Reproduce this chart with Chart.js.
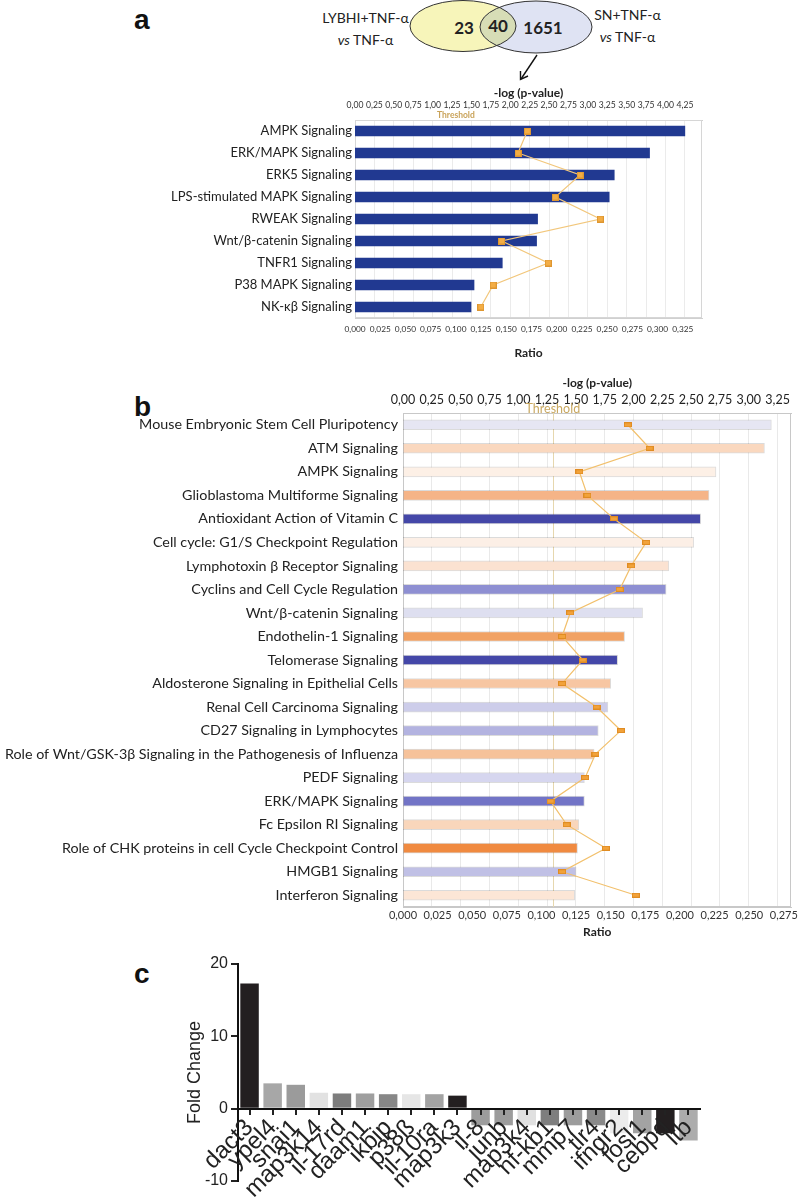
<!DOCTYPE html>
<html>
<head>
<meta charset="utf-8">
<script src="https://cdn.jsdelivr.net/npm/chart.js@4.4.1/dist/chart.umd.min.js"></script>
<style>
  html, body { margin: 0; padding: 0; background: #fff; }
  body { width: 800px; height: 1204px; position: relative; overflow: hidden; font-family: Lato, "Open Sans", sans-serif; color: #222; }
  .abs { position: absolute; }
  .plabel { position: absolute; font-family: "Liberation Sans", Arial, sans-serif; font-weight: bold; font-size: 28px; color: #111; line-height: 1; }
  .venntxt { position: absolute; font-size: 14px; text-align: center; line-height: 22px; color: #222; }
  .vnum { position: absolute; font-size: 17px; font-weight: bold; color: #222; transform: translate(-50%, -50%); }
  canvas { position: absolute; left: 0; }
</style>
</head>
<body>

<script>
// ---------------- DATA ----------------
const vennLeftLabel = ['LYBHI+TNF-α', 'TNF-α'];
const vennRightLabel = ['SN+TNF-α', 'TNF-α'];
const vennCounts = [23, 40, 1651];

const aCategories = ['AMPK Signaling', 'ERK/MAPK Signaling', 'ERK5 Signaling', 'LPS-stimulated MAPK Signaling',
  'RWEAK Signaling', 'Wnt/β-catenin Signaling', 'TNFR1 Signaling', 'P38 MAPK Signaling', 'NK-κβ Signaling'];
const aRatio = [0.327, 0.292, 0.257, 0.252, 0.181, 0.180, 0.146, 0.118, 0.115];
const aLogP = [2.22, 2.10, 2.90, 2.58, 3.16, 1.89, 2.49, 1.78, 1.62];

const bCategories = ['Mouse Embryonic Stem Cell Pluripotency', 'ATM Signaling', 'AMPK Signaling',
  'Glioblastoma Multiforme Signaling', 'Antioxidant Action of Vitamin C', 'Cell cycle: G1/S Checkpoint Regulation',
  'Lymphotoxin β Receptor Signaling', 'Cyclins and Cell Cycle Regulation', 'Wnt/β-catenin Signaling',
  'Endothelin-1 Signaling', 'Telomerase Signaling', 'Aldosterone Signaling in Epithelial Cells',
  'Renal Cell Carcinoma Signaling', 'CD27 Signaling in Lymphocytes',
  'Role of Wnt/GSK-3β Signaling in the Pathogenesis of Influenza', 'PEDF Signaling', 'ERK/MAPK Signaling',
  'Fc Epsilon RI Signaling', 'Role of CHK proteins in cell Cycle Checkpoint Control', 'HMGB1 Signaling',
  'Interferon Signaling'];
const bRatio = [0.266, 0.261, 0.226, 0.221, 0.215, 0.210, 0.192, 0.190, 0.173, 0.160, 0.155, 0.150,
  0.148, 0.141, 0.138, 0.131, 0.131, 0.127, 0.126, 0.125, 0.124];
const bLogP = [1.95, 2.14, 1.53, 1.60, 1.83, 2.11, 1.98, 1.88, 1.45, 1.38, 1.56, 1.38,
  1.68, 1.89, 1.67, 1.58, 1.28, 1.42, 1.76, 1.38, 2.02];
const bBarColors = ['#e6e6f3', '#fad8bf', '#fdf0e6', '#f5b487', '#4447a8', '#fcefe6', '#fbe2d1', '#8e8fd2',
  '#dedff0', '#f1a264', '#4447a8', '#f7c6a2', '#cdcdea', '#b3b3e0', '#f6c29a', '#d6d6ef', '#7274c6',
  '#f9d6bb', '#f08a40', '#c0c0e5', '#fce6d6'];

const thresholdLogP = 1.3;

const cGenes = ['dact3', 'ypel4', 'snai1', 'map3k14', 'il-17rd', 'daam1', 'ikbip', 'p38ß', 'il-10ra', 'map3k3',
  'il-8', 'junb', 'map3k4', 'nf-kb1', 'mmp7', 'tlr4', 'ifngr2', 'fosl1', 'cebpd', 'ltb'];
const cFold = [17.3, 3.5, 3.3, 2.2, 2.1, 2.1, 2.0, 2.0, 2.0, 1.8,
  -2.3, -2.3, -2.3, -2.3, -2.3, -2.3, -3.4, -3.4, -3.4, -4.4];
const cBarColors = ['#231f20', '#a7a7a7', '#9b9b9b', '#e2e2e2', '#7d7d7d', '#9f9f9f', '#878787', '#e6e6e6',
  '#a3a3a3', '#231f20', '#9c9c9c', '#9c9c9c', '#e0e0e0', '#7e7e7e', '#9c9c9c', '#8a8a8a', '#ececec',
  '#a3a3a3', '#231f20', '#acacac'];
</script>

<!-- panel labels -->
<div class="plabel" style="left:134px;top:6px;">a</div>
<div class="plabel" style="left:134px;top:393px;">b</div>
<div class="plabel" style="left:134px;top:960px;">c</div>

<!-- Venn diagram -->
<svg class="abs" style="left:0;top:0" width="800" height="84">
  <defs>
    <clipPath id="clipY"><ellipse cx="463" cy="26" rx="53" ry="25.5"/></clipPath>
  </defs>
  <ellipse cx="463" cy="26" rx="53" ry="25.5" fill="#f7f5ba"/>
  <ellipse cx="536" cy="27" rx="56" ry="26" fill="#dfe3f3"/>
  <ellipse cx="536" cy="27" rx="56" ry="26" fill="#d7ddb6" clip-path="url(#clipY)"/>
  <ellipse cx="463" cy="26" rx="53" ry="25.5" fill="none" stroke="#333" stroke-width="1"/>
  <ellipse cx="536" cy="27" rx="56" ry="26" fill="none" stroke="#333" stroke-width="1"/>
  <line x1="537" y1="55" x2="521" y2="79" stroke="#111" stroke-width="1.4"/>
  <polyline points="520.5,71 520.5,79.5 528,76" fill="none" stroke="#111" stroke-width="1.4"/>
</svg>
<div id="vennL" class="venntxt" style="left:318px;top:7px;width:95px;"></div>
<div id="vennR" class="venntxt" style="left:585px;top:4px;width:85px;"></div>
<div id="vn0" class="vnum" style="left:464px;top:27px;"></div>
<div id="vn1" class="vnum" style="left:498px;top:25px;"></div>
<div id="vn2" class="vnum" style="left:543px;top:27px;"></div>

<canvas id="ca" width="800" height="290" style="top:80px"></canvas>
<canvas id="cb" width="800" height="575" style="top:370px"></canvas>
<canvas id="cc" width="800" height="259" style="top:945px"></canvas>

<script>
document.getElementById('vennL').innerHTML = vennLeftLabel[0] + '<br><i>vs</i> ' + vennLeftLabel[1];
document.getElementById('vennR').innerHTML = vennRightLabel[0] + '<br><i>vs</i> ' + vennRightLabel[1];
vennCounts.forEach((v, i) => { document.getElementById('vn' + i).textContent = v; });

function markerImg(w, h, fill, stroke) {
  const c = document.createElement('canvas');
  c.width = w; c.height = h;
  const x = c.getContext('2d');
  x.fillStyle = fill; x.fillRect(0, 0, w, h);
  x.strokeStyle = stroke; x.lineWidth = 1; x.strokeRect(0.5, 0.5, w - 1, h - 1);
  return c;
}

const framePlugin = {
  id: 'frame',
  beforeDatasetsDraw(chart, args, o) {
    if (!o || !o.color) return;
    const a = chart.chartArea, ctx = chart.ctx;
    ctx.save();
    ctx.strokeStyle = o.color; ctx.lineWidth = 1;
    ctx.strokeRect(Math.round(a.left) + 0.5, Math.round(a.top) + 0.5, Math.round(a.width) - 1, Math.round(a.height) - 1);
    ctx.restore();
  }
};

const thresholdPlugin = {
  id: 'threshold',
  beforeDatasetsDraw(chart, args, o) {
    if (!o || !o.lineColor) return;
    const s = chart.scales[o.axis], a = chart.chartArea, ctx = chart.ctx;
    const x = Math.round(s.getPixelForValue(o.value)) + 0.5;
    ctx.save();
    ctx.strokeStyle = o.lineColor; ctx.lineWidth = 1;
    ctx.beginPath(); ctx.moveTo(x, a.top); ctx.lineTo(x, a.bottom); ctx.stroke();
    ctx.restore();
  },
  afterDraw(chart, args, o) {
    if (!o || !o.text) return;
    const s = chart.scales[o.axis], a = chart.chartArea, ctx = chart.ctx;
    const x = s.getPixelForValue(o.value);
    ctx.save();
    ctx.font = o.font;
    ctx.fillStyle = o.textColor;
    ctx.textAlign = 'center'; ctx.textBaseline = 'middle';
    ctx.fillText(o.text, x, a.top + o.textDy);
    ctx.restore();
  }
};

const fmt = d => v => v.toFixed(d).replace('.', ',');

// ---------------- Panel a ----------------
new Chart(document.getElementById('ca'), {
  type: 'bar',
  data: {
    labels: aCategories,
    datasets: [
      { type: 'line', indexAxis: 'y', data: aLogP, xAxisID: 'x2', yAxisID: 'y',
        borderColor: '#f2c77c', borderWidth: 1.2, pointStyle: markerImg(7, 7, '#f3ad45', '#de9630'),
        pointRadius: 4, order: 0 },
      { type: 'bar', indexAxis: 'y', data: aRatio, xAxisID: 'x', yAxisID: 'y',
        backgroundColor: '#213991', borderWidth: 0, barThickness: 10, order: 1 }
    ]
  },
  options: {
    indexAxis: 'y', responsive: false, animation: false,
    layout: { padding: { right: 98, left: 0, top: 0, bottom: 0 } },
    plugins: {
      legend: { display: false }, tooltip: { enabled: false },
      frame: { color: '#d6d6d6' },
      threshold: { axis: 'x2', value: thresholdLogP, text: 'Threshold', font: 'bold 8.5px Lato', textColor: '#c9a35a', textDy: -5 }
    },
    scales: {
      y: {
        type: 'category', position: 'left',
        afterFit: s => { s.width = 355; },
        grid: { display: false, drawTicks: false },
        border: { display: true, color: '#d0d0d0' },
        ticks: { color: '#222', font: { family: 'Lato', size: 13 }, padding: 3, autoSkip: false }
      },
      x: {
        type: 'linear', position: 'bottom', min: 0, max: 0.344,
        afterFit: s => { s.height = 52; },
        grid: { display: false, drawTicks: false },
        border: { display: true, color: '#d0d0d0' },
        ticks: { stepSize: 0.025, includeBounds: false, callback: fmt(3), color: '#333', font: { family: 'Lato', size: 8.3 }, padding: 6, maxRotation: 0, autoSkip: false },
        title: { display: true, text: 'Ratio', color: '#222', font: { family: 'Lato', size: 12, weight: 'bold' }, padding: { top: 0, bottom: 10 } }
      },
      x2: {
        type: 'linear', axis: 'x', position: 'top', min: 0, max: 4.47,
        afterFit: s => { s.height = 40; },
        grid: { color: '#ebebeb', drawTicks: false },
        border: { display: true, color: '#d0d0d0' },
        ticks: { stepSize: 0.25, includeBounds: false, callback: fmt(2), color: '#333', font: { family: 'Lato', size: 8.6 }, padding: 10, maxRotation: 0, autoSkip: false },
        title: { display: true, text: '-log (p-value)', color: '#222', font: { family: 'Lato', size: 12, weight: 'bold' }, padding: { top: 6, bottom: 0 } }
      }
    }
  },
  plugins: [framePlugin, thresholdPlugin]
});

// ---------------- Panel b ----------------
new Chart(document.getElementById('cb'), {
  type: 'bar',
  data: {
    labels: bCategories,
    datasets: [
      { type: 'line', indexAxis: 'y', data: bLogP, xAxisID: 'x2', yAxisID: 'y',
        borderColor: '#f2c06c', borderWidth: 1.2, pointStyle: markerImg(8, 5, '#f2a23a', '#e08c22'),
        pointRadius: 4, order: 0 },
      { type: 'bar', indexAxis: 'y', data: bRatio, xAxisID: 'x', yAxisID: 'y',
        backgroundColor: bBarColors, borderColor: 'rgba(0,0,0,0.14)', borderWidth: 1, borderSkipped: false,
        barThickness: 10, order: 1 }
    ]
  },
  options: {
    indexAxis: 'y', responsive: false, animation: false,
    layout: { padding: { right: 8, left: 0, top: 0, bottom: 0 } },
    plugins: {
      legend: { display: false }, tooltip: { enabled: false },
      frame: { color: '#c8c8c8' },
      threshold: { axis: 'x2', value: thresholdLogP, lineColor: '#e6d7ae', text: 'Threshold', font: '12.5px Lato', textColor: '#c9a860', textDy: -4 }
    },
    scales: {
      y: {
        type: 'category', position: 'left',
        afterFit: s => { s.width = 403; },
        grid: { display: false, drawTicks: false },
        border: { display: true, color: '#c8c8c8' },
        ticks: { color: '#222', font: { family: 'Lato', size: 14.3 }, padding: 5, autoSkip: false }
      },
      x: {
        type: 'linear', position: 'bottom', min: 0, max: 0.2805,
        afterFit: s => { s.height = 38; },
        grid: { display: false, drawTicks: false },
        border: { display: true, color: '#c8c8c8' },
        ticks: { stepSize: 0.025, includeBounds: false, callback: fmt(3), color: '#333', font: { family: 'Lato', size: 11 }, padding: 2, maxRotation: 0, autoSkip: false },
        title: { display: true, text: 'Ratio', color: '#222', font: { family: 'Lato', size: 12, weight: 'bold' }, padding: { top: 0, bottom: 6 } }
      },
      x2: {
        type: 'linear', axis: 'x', position: 'top', min: 0, max: 3.37,
        afterFit: s => { s.height = 43; },
        grid: { color: '#e9e9e9', drawTicks: false },
        border: { display: true, color: '#c8c8c8' },
        ticks: { stepSize: 0.25, includeBounds: false, callback: fmt(2), color: '#222', font: { family: 'Lato', size: 12.5 }, padding: 6, maxRotation: 0, autoSkip: false },
        title: { display: true, text: '-log (p-value)', color: '#222', font: { family: 'Lato', size: 12, weight: 'bold' }, padding: { top: 6, bottom: 0 } }
      }
    }
  },
  plugins: [framePlugin, thresholdPlugin]
});

// ---------------- Panel c ----------------
new Chart(document.getElementById('cc'), {
  type: 'bar',
  data: {
    labels: cGenes,
    datasets: [
      { data: cFold, backgroundColor: cBarColors, borderWidth: 0, barPercentage: 0.8, categoryPercentage: 1 }
    ]
  },
  options: {
    responsive: false, animation: false,
    layout: { padding: { left: 182, right: 100, top: 19, bottom: 23 } },
    plugins: { legend: { display: false }, tooltip: { enabled: false } },
    scales: {
      x: {
        type: 'category', position: { y: 0 },
        grid: { offset: false, drawOnChartArea: false, drawTicks: true, tickLength: 5, color: '#222', lineWidth: 2, z: 1 },
        border: { display: true, color: '#111', width: 2, z: 1 },
        ticks: { minRotation: 45, maxRotation: 45, autoSkip: false, color: '#222', z: 1,
          font: { family: '"Liberation Sans", Arial, sans-serif', size: 24 }, padding: 0 }
      },
      y: {
        type: 'linear', min: -10, max: 20,
        afterFit: s => { s.width = 56; },
        grid: { drawOnChartArea: false, drawTicks: true, tickLength: 7, color: '#222', lineWidth: 2 },
        border: { display: true, color: '#111', width: 2 },
        ticks: { stepSize: 10, color: '#222', font: { family: '"Liberation Sans", Arial, sans-serif', size: 16 }, padding: 3 },
        title: { display: true, text: 'Fold Change', color: '#222', font: { family: '"Liberation Sans", Arial, sans-serif', size: 18 }, padding: { top: 2, bottom: 0 } }
      }
    }
  }
});
</script>
</body>
</html>
